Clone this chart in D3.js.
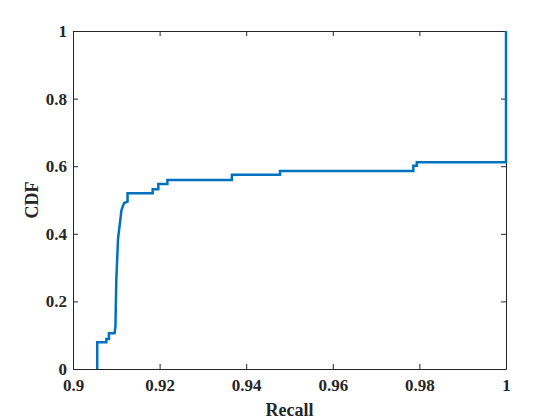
<!DOCTYPE html>
<html>
<head>
<meta charset="utf-8">
<script src="https://cdn.jsdelivr.net/npm/d3@7"></script>
<style>
  html, body { margin: 0; padding: 0; background: #fff; }
  svg { display: block; }
  text { font-family: "Liberation Serif", "Times New Roman", serif; font-weight: bold; fill: #262626; }
</style>
</head>
<body>
<svg id="chart" width="560" height="420"></svg>
<script>
// CDF curve vertices (recall, cdf)
const recall = [0.9056, 0.9056, 0.9077, 0.9077, 0.9083, 0.9083, 0.9096, 0.9098, 0.9100, 0.9104, 0.9112, 0.9118, 0.9126, 0.9126,
                0.9184, 0.9184, 0.9197, 0.9197, 0.9218, 0.9218, 0.9367, 0.9367, 0.9478, 0.9478, 0.9786, 0.9786, 0.9794, 0.9794, 1.0, 1.0];
const cdf    = [0.000, 0.079, 0.079, 0.089, 0.089, 0.106, 0.106, 0.125, 0.263, 0.385, 0.470, 0.491, 0.495, 0.520,
                0.520, 0.532, 0.532, 0.547, 0.547, 0.559, 0.559, 0.575, 0.575, 0.586, 0.586, 0.601, 0.601, 0.612, 0.612, 1.000];
const xTicks = [0.9, 0.92, 0.94, 0.96, 0.98, 1];
const yTicks = [0, 0.2, 0.4, 0.6, 0.8, 1];

const svg = d3.select("#chart");
const m = { left: 73, top: 31, right: 506, bottom: 369 };
const x = d3.scaleLinear().domain([0.9, 1]).range([m.left, m.right]);
const y = d3.scaleLinear().domain([0, 1]).range([m.bottom, m.top]);

const fmt = d => String(d);

const axisColor = "#262626";
function styleAxis(g) {
  g.select(".domain").attr("stroke", axisColor).attr("stroke-width", 1);
  g.selectAll(".tick line").attr("stroke", axisColor).attr("stroke-width", 1);
  g.selectAll(".tick text").style("font-size", "17px").style("font-family", '"Liberation Serif", serif').style("font-weight", "bold").attr("fill", axisColor);
}

const gxB = svg.append("g").attr("transform", `translate(0,${m.bottom})`)
  .call(d3.axisBottom(x).tickValues(xTicks).tickFormat(fmt).tickSizeInner(-5).tickSizeOuter(0).tickPadding(10));
styleAxis(gxB);
const gxT = svg.append("g").attr("transform", `translate(0,${m.top})`)
  .call(d3.axisTop(x).tickValues(xTicks).tickFormat("").tickSizeInner(-5).tickSizeOuter(0));
styleAxis(gxT);
const gyL = svg.append("g").attr("transform", `translate(${m.left},0)`)
  .call(d3.axisLeft(y).tickValues(yTicks).tickFormat(fmt).tickSizeInner(-5).tickSizeOuter(0).tickPadding(6));
styleAxis(gyL);
const gyR = svg.append("g").attr("transform", `translate(${m.right},0)`)
  .call(d3.axisRight(y).tickValues(yTicks).tickFormat("").tickSizeInner(-5).tickSizeOuter(0));
styleAxis(gyR);

// curve
const pts = recall.map((r, i) => [r, cdf[i]]);
svg.append("path")
  .datum(pts)
  .attr("fill", "none")
  .attr("stroke", "#0072BD")
  .attr("stroke-width", 2.5)
  .attr("stroke-linejoin", "miter")
  .attr("d", d3.line().x(d => x(d[0])).y(d => y(d[1])));

// axis titles
svg.append("text")
  .attr("x", (m.left + m.right) / 2).attr("y", 416)
  .attr("text-anchor", "middle")
  .style("font-size", "18px")
  .text("Recall");
svg.append("text")
  .attr("transform", `translate(38,${(m.top + m.bottom) / 2}) rotate(-90)`)
  .attr("text-anchor", "middle")
  .style("font-size", "18px")
  .text("CDF");
</script>
</body>
</html>
